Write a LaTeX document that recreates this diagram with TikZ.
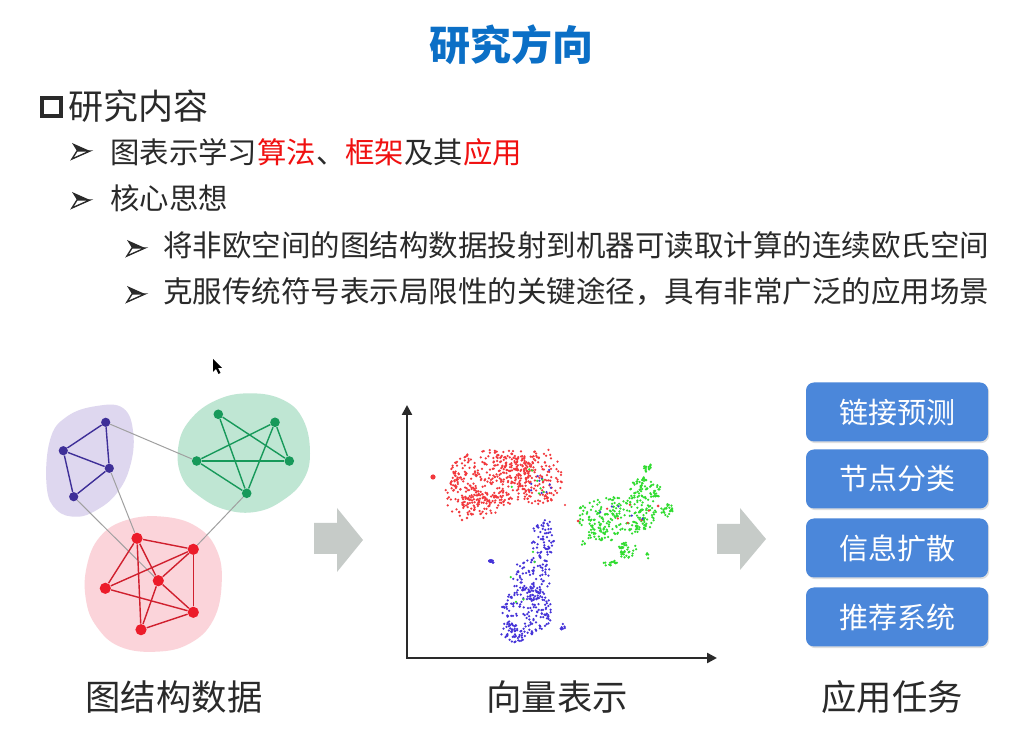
\documentclass[tikz,border=0pt]{standalone}
\usepackage{fontspec}
\usetikzlibrary{arrows.meta,shadows}
\newfontfamily\cjk{Noto Sans CJK SC}

\definecolor{titleblue}{HTML}{0B6FC6}
\definecolor{ink}{HTML}{2A2A2A}
\definecolor{hot}{HTML}{F01010}
\definecolor{blobP}{HTML}{DED7EF}
\definecolor{blobG}{HTML}{BFE6D3}
\definecolor{blobR}{HTML}{FBD4DA}
\definecolor{nodeP}{HTML}{3E2F98}
\definecolor{nodeG}{HTML}{17995A}
\definecolor{nodeR}{HTML}{EC1C2A}
\definecolor{edgeR}{HTML}{D0202E}
\definecolor{bridge}{HTML}{A0A0A0}
\definecolor{flow}{HTML}{C6CBC8}
\definecolor{taskblue}{HTML}{4B87DA}
\definecolor{dotR}{HTML}{F2383C}
\definecolor{dotB}{HTML}{4533D8}
\definecolor{dotG}{HTML}{30DC30}

\pgfdeclarelayer{paper}
\pgfdeclarelayer{blobs}
\pgfdeclarelayer{links}
\pgfsetlayers{paper,blobs,links,main}

\tikzset{
  fs/.style={font={\cjk\fontsize{#1}{#1}\selectfont}},
  txt/.style={inner sep=0pt, text=ink},
  pnode/.style={circle, fill=nodeP, inner sep=0pt, minimum size=4.6pt},
  gnode/.style={circle, fill=nodeG, inner sep=0pt, minimum size=4.8pt},
  rnode/.style={circle, fill=nodeR, inner sep=0pt, minimum size=5.6pt},
  plink/.style={draw=nodeP, line width=0.7pt},
  glink/.style={draw=nodeG, line width=0.7pt},
  rlink/.style={draw=edgeR, line width=0.7pt},
  blink/.style={draw=bridge, line width=0.5pt},
  taskbox/.style={fill=taskblue, rounded corners=4pt, minimum width=91pt,
    minimum height=29.5pt, text=white, fs=14.5pt, inner sep=0pt,
    drop shadow={shadow xshift=0.6pt, shadow yshift=-0.8pt, opacity=0.25}},
  caption/.style={txt, fs=17.7pt},
  axis/.style={line width=1.2pt, draw=ink, {Triangle[length=5pt,width=5pt]}-{Triangle[length=5pt,width=5pt]}},
  bulletdart/.pic={
    \fill[ink] (0,-8) -- (18,0) -- (5,0) -- cycle;
    \draw[ink, line width=0.7pt, line join=miter] (5,0) -- (18,0) -- (0,8) -- cycle;
  }
}

% random dots spread over an ellipse: cx, cy, rx, ry, count, colour
\newcommand\dotcloud[6]{%
  \foreach \k in {1,...,#5}{%
    \pgfmathsetmacro\ang{360*rnd}%
    \pgfmathsetmacro\rad{sqrt(rnd)}%
    \fill[#6] ({#1+#3*\rad*cos(\ang)},{#2+#4*\rad*sin(\ang)}) circle[radius=1.25];
  }}

\begin{document}
\begin{tikzpicture}[x=0.5pt, y=-0.5pt]
\useasboundingbox (0,0) rectangle (1029,731);
\begin{pgfonlayer}{paper}
\fill[white] (0,0) rectangle (1029,731);
\end{pgfonlayer}

% ---------- heading and bullet text ----------
\node[inner sep=0pt, text=titleblue, font={\cjk\bfseries\fontsize{20.5pt}{20.5pt}\selectfont}] (title) at (511,45) {研究方向};

\draw[ink, line width=2pt] (42,98) rectangle (61,116);
\node[txt, fs=17.5pt, anchor=west] (topic) at (68,106) {研究内容};

\pic at (72,151) {bulletdart};
\node[txt, fs=14.7pt, anchor=west] (item1) at (110,152) {图表示学习\textcolor{hot}{算法}、\textcolor{hot}{框架}及其\textcolor{hot}{应用}};
\pic at (72,200) {bulletdart};
\node[txt, fs=14.7pt, anchor=west] (item2) at (110,198) {核心思想};

\pic at (127,248) {bulletdart};
\node[txt, fs=14.75pt, anchor=west] (idea1) at (163,245) {将非欧空间的图结构数据投射到机器可读取计算的连续欧氏空间};
\pic at (127,294) {bulletdart};
\node[txt, fs=14.75pt, anchor=west] (idea2) at (163,292) {克服传统符号表示局限性的关键途径，具有非常广泛的应用场景};

% mouse pointer
\fill[black] (213,359) -- (213,372) -- (216,369) -- (218.5,374) -- (220.5,373) -- (218,368) -- (222,368) -- cycle;

% ---------- graph with three communities ----------
\begin{pgfonlayer}{blobs}
\fill[blobP] plot[smooth cycle, tension=0.7] coordinates {(50,440) (66.7,416.7) (96.7,406) (123.3,408.3) (133.3,433.3) (130,466.7) (116.7,493.3) (96.7,510) (76.7,516.7) (56.7,510) (46.7,486.7)};
\fill[blobG] plot[smooth cycle, tension=0.7] coordinates {(178.3,446.7) (190,420) (216.7,400) (250,393.3) (283.3,400) (303.3,420) (310,453.3) (303.3,480) (283.3,500) (256.7,511.7) (226.7,510) (200,496.7) (181.7,476.7)};
\fill[blobR] plot[smooth cycle, tension=0.7] coordinates {(86.7,566.7) (100,536.7) (126.7,520) (163.3,516.7) (196.7,526.7) (216.7,550) (221.7,583.3) (213.3,620) (190,643.3) (156.7,651.7) (120,646.7) (96.7,626.7) (86,600)};
\end{pgfonlayer}

\node[pnode] (p1) at (105.7,422.3) {};
\node[pnode] (p2) at (63.3,450.7) {};
\node[pnode] (p3) at (109.3,468.3) {};
\node[pnode] (p4) at (73.7,496.7) {};

\node[gnode] (g1) at (218.3,414.3) {};
\node[gnode] (g2) at (275,422.3) {};
\node[gnode] (g3) at (196.7,461) {};
\node[gnode] (g4) at (289.3,461) {};
\node[gnode] (g5) at (246.7,493.3) {};

\node[rnode] (r1) at (137,538.3) {};
\node[rnode] (r2) at (193.3,549.3) {};
\node[rnode] (r3) at (158.3,580.7) {};
\node[rnode] (r4) at (105.3,588.3) {};
\node[rnode] (r5) at (193.3,612.3) {};
\node[rnode] (r6) at (141,629.7) {};

\begin{pgfonlayer}{links}
\draw[blink] (p1) -- (g3);
\draw[blink] (p3) -- (r1);
\draw[blink] (p4) -- (r3);
\draw[blink] (g5) -- (r2);

\draw[plink] (p1) -- (p2);
\draw[plink] (p1) -- (p3);
\draw[plink] (p2) -- (p3);
\draw[plink] (p3) -- (p4);
\draw[plink] (p2) -- (p4);

\draw[glink] (g1) -- (g4);
\draw[glink] (g1) -- (g5);
\draw[glink] (g2) -- (g3);
\draw[glink] (g2) -- (g4);
\draw[glink] (g2) -- (g5);
\draw[glink] (g3) -- (g4);
\draw[glink] (g3) -- (g5);

\draw[rlink] (r1) -- (r2);
\draw[rlink] (r1) -- (r3);
\draw[rlink] (r1) -- (r4);
\draw[rlink] (r1) -- (r6);
\draw[rlink] (r2) -- (r3);
\draw[rlink] (r2) -- (r4);
\draw[rlink] (r2) -- (r5);
\draw[rlink] (r3) -- (r5);
\draw[rlink] (r3) -- (r6);
\draw[rlink] (r4) -- (r5);
\draw[rlink] (r6) -- (r5);
\end{pgfonlayer}

% ---------- block arrows ----------
\fill[flow] (314,523) -- (337,523) -- (337,508) -- (363,540) -- (337,572) -- (337,554) -- (314,554) -- cycle;
\fill[flow] (717,524) -- (740,524) -- (740,508) -- (766,539) -- (740,570) -- (740,554) -- (717,554) -- cycle;

% ---------- embedding scatter ----------
\coordinate (ytop) at (407,405);
\coordinate (origin) at (407,658);
\coordinate (xend) at (717,658);
\draw[axis] (ytop) -- (origin) -- (xend);

\pgfmathsetseed{4242}
% red class
\dotcloud{492}{478}{46}{28}{280}{dotR}
\dotcloud{463}{492}{19}{25}{75}{dotR}
\dotcloud{538}{476}{25}{29}{140}{dotR}
\dotcloud{515}{462}{22}{13}{55}{dotR}
\dotcloud{482}{505}{21}{13}{55}{dotR}
\dotcloud{540}{478}{14}{16}{10}{dotB}
\dotcloud{530}{482}{20}{16}{8}{dotG}
\fill[dotR] (433,477) circle[radius=2.6];
\fill[dotR] (462,520) circle[radius=1.3];
\fill[dotR] (467,518) circle[radius=1.3];
\fill[dotR] (565,505) circle[radius=1.2];
% blue class
\dotcloud{543}{540}{11}{23}{65}{dotB}
\dotcloud{532}{578}{19}{23}{95}{dotB}
\dotcloud{526}{612}{26}{25}{160}{dotB}
\dotcloud{514}{634}{13}{9}{40}{dotB}
\dotcloud{528}{590}{20}{40}{5}{dotG}
\dotcloud{563}{627}{2.5}{4}{8}{dotB}
\dotcloud{492}{561}{3}{2}{8}{dotB}
\fill[dotB] (491,561) circle[radius=2];
% green class
\dotcloud{617}{516}{41}{19}{210}{dotG}
\dotcloud{645}{490}{16}{13}{75}{dotG}
\dotcloud{648}{468}{4}{5}{15}{dotG}
\dotcloud{667}{510}{6}{7}{25}{dotG}
\dotcloud{627}{550}{10}{8}{40}{dotG}
\dotcloud{610}{563}{8}{3}{15}{dotG}
\dotcloud{600}{535}{15}{8}{30}{dotG}
\dotcloud{583}{543}{2}{2}{4}{dotG}
\dotcloud{647}{556}{2}{3}{5}{dotG}
\dotcloud{620}{515}{35}{15}{6}{dotR}
\dotcloud{625}{515}{35}{15}{5}{dotB}
\fill[dotR] (578,521) circle[radius=1.5];
\fill[dotR] (658,506) circle[radius=1.5];

% ---------- downstream tasks ----------
\node[taskbox] (t1) at (897,412) {链接预测};
\node[taskbox] (t2) at (897,479) {节点分类};
\node[taskbox] (t3) at (897,548) {信息扩散};
\node[taskbox] (t4) at (897,617) {推荐系统};

% ---------- captions ----------
\node[caption] (cap1) at (174,697) {图结构数据};
\node[caption] (cap2) at (557,697) {向量表示};
\node[caption] (cap3) at (892,697) {应用任务};
\end{tikzpicture}
\end{document}
